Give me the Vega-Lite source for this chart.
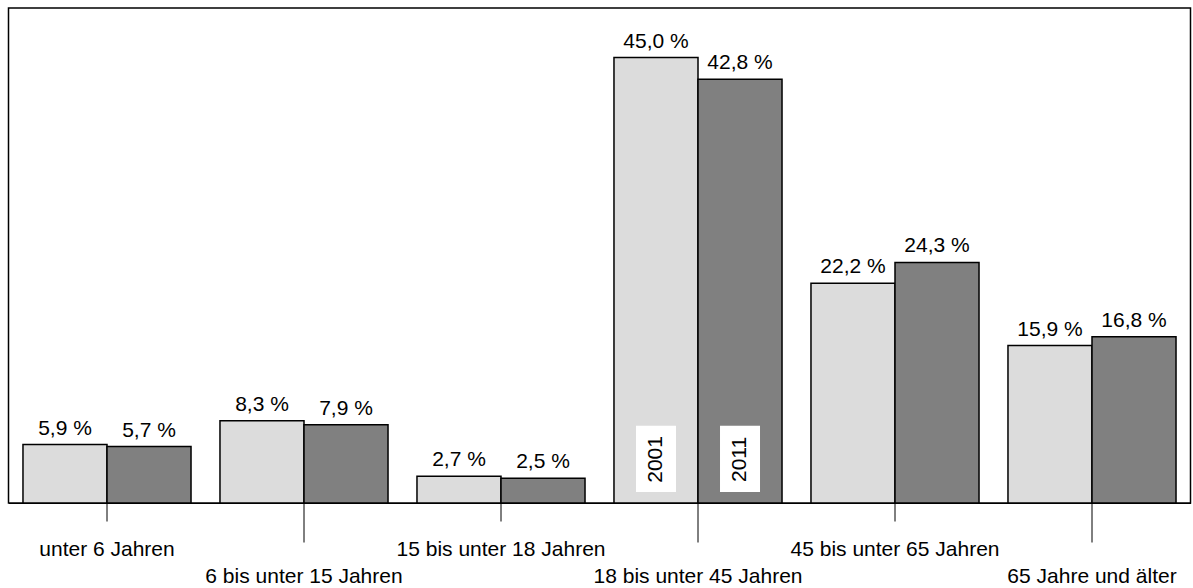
{
  "$schema": "https://vega.github.io/schema/vega-lite/v6.json",
  "width": 1182,
  "height": 495,
  "autosize": {"type": "none"},
  "padding": {"left": 8.5, "top": 8, "right": 2.5, "bottom": 85},
  "background": "white",
  "config": {
    "view": {"stroke": "#000000", "strokeWidth": 1.5},
    "font": "Liberation Sans",
    "text": {"font": "Liberation Sans", "fontSize": 21, "color": "#000000"}
  },
  "data": {
    "values": [
      {"group": "unter 6 Jahren", "year": "2001", "value": 5.9},
      {"group": "unter 6 Jahren", "year": "2011", "value": 5.7},
      {"group": "6 bis unter 15 Jahren", "year": "2001", "value": 8.3},
      {"group": "6 bis unter 15 Jahren", "year": "2011", "value": 7.9},
      {"group": "15 bis unter 18 Jahren", "year": "2001", "value": 2.7},
      {"group": "15 bis unter 18 Jahren", "year": "2011", "value": 2.5},
      {"group": "18 bis unter 45 Jahren", "year": "2001", "value": 45.0},
      {"group": "18 bis unter 45 Jahren", "year": "2011", "value": 42.8},
      {"group": "45 bis unter 65 Jahren", "year": "2001", "value": 22.2},
      {"group": "45 bis unter 65 Jahren", "year": "2011", "value": 24.3},
      {"group": "65 Jahre und älter", "year": "2001", "value": 15.9},
      {"group": "65 Jahre und älter", "year": "2011", "value": 16.8}
    ]
  },
  "encoding": {
    "x": {
      "field": "group",
      "type": "nominal",
      "sort": null,
      "scale": {"paddingInner": 0.147, "paddingOuter": 0.0735},
      "axis": {
        "title": null,
        "domain": true,
        "domainColor": "#000000",
        "domainWidth": 1,
        "ticks": true,
        "tickColor": "#000000",
        "tickWidth": 1,
        "tickSize": {
          "condition": {"test": "indexof(['6 bis unter 15 Jahren','18 bis unter 45 Jahren','65 Jahre und älter'], datum.value) >= 0", "value": 39},
          "value": 18
        },
        "labelPadding": {
          "condition": {"test": "indexof(['6 bis unter 15 Jahren','18 bis unter 45 Jahren','65 Jahre und älter'], datum.value) >= 0", "value": 40},
          "value": 34
        },
        "labelAngle": 0,
        "labelBaseline": "alphabetic",
        "labelFont": "Liberation Sans",
        "labelFontSize": 21,
        "labelColor": "#000000",
        "labelOverlap": false,
        "labelFlush": false,
        "labelBound": false,
        "labelLimit": 0,
        "grid": false
      }
    },
    "xOffset": {
      "field": "year",
      "type": "nominal",
      "scale": {"paddingInner": 0, "paddingOuter": 0}
    }
  },
  "layer": [
    {
      "mark": {"type": "bar", "stroke": "#000000", "strokeWidth": 1.5, "opacity": 1},
      "encoding": {
        "y": {"field": "value", "type": "quantitative", "scale": {"domain": [0, 50], "nice": false}, "axis": null},
        "color": {
          "field": "year",
          "type": "nominal",
          "scale": {"domain": ["2001", "2011"], "range": ["#dcdcdc", "#808080"]},
          "legend": null
        }
      }
    },
    {
      "transform": [
        {"calculate": "replace(format(datum.value, '.1f'), '.', ',') + ' %'", "as": "label"}
      ],
      "mark": {"type": "text", "baseline": "alphabetic", "align": "center", "dy": -10, "fontSize": 21},
      "encoding": {
        "y": {"field": "value", "type": "quantitative"},
        "text": {"field": "label"}
      }
    },
    {
      "transform": [{"filter": "datum.group === '18 bis unter 45 Jahren'"}],
      "mark": {"type": "bar", "color": "#ffffff", "size": 40},
      "encoding": {
        "y": {"datum": 1.1},
        "y2": {"datum": 7.8}
      }
    },
    {
      "transform": [{"filter": "datum.group === '18 bis unter 45 Jahren'"}],
      "mark": {"type": "text", "angle": 270, "align": "center", "baseline": "middle", "fontSize": 21},
      "encoding": {
        "y": {"datum": 4.4},
        "text": {"field": "year"}
      }
    }
  ]
}
